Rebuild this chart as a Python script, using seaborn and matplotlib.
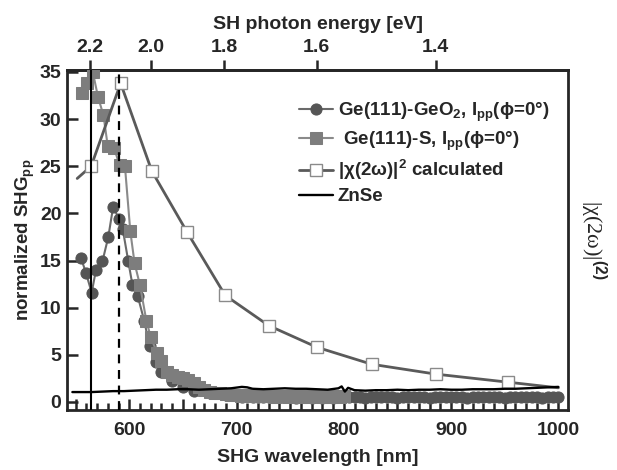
import numpy as np
import pandas as pd
import matplotlib
matplotlib.use("Agg")
import matplotlib.pyplot as plt
from matplotlib.ticker import MultipleLocator, FuncFormatter
import seaborn as sns

# ---------------- data ----------------
geo2_wl = [555, 559.6, 565, 569, 575, 580.5, 585, 590.5, 594, 599, 603, 608, 614, 619,
           625, 630, 640, 650, 660, 675, 690,
           700, 705, 710, 715, 720, 725, 730, 735, 740, 745, 750, 755, 760, 765, 770,
           775, 780, 785, 790, 795, 800, 805, 810, 815, 820, 825, 830, 835, 840, 845,
           850, 855, 860, 865, 870, 875, 880, 885, 890, 895, 900, 905, 910, 915, 920,
           925, 930, 935, 940, 945, 950, 955, 960, 965, 970, 975, 980, 985, 990, 995, 1000]
geo2_val = [15.3, 13.7, 11.6, 14.0, 14.9, 17.5, 20.7, 19.4, 18.3, 15.0, 12.4, 11.2, 8.6, 5.9,
            4.2, 3.2, 2.2, 1.6, 1.2, 0.9, 0.7,
            0.6, 0.55, 0.6, 0.5, 0.55, 0.5, 0.55, 0.5, 0.5, 0.55, 0.5, 0.45, 0.5, 0.5, 0.45,
            0.5, 0.45, 0.5, 0.45, 0.5, 0.5, 0.55, 0.5, 0.5, 0.45, 0.5, 0.5, 0.55, 0.5, 0.5,
            0.45, 0.5, 0.5, 0.55, 0.5, 0.5, 0.45, 0.5, 0.5, 0.5, 0.55, 0.5, 0.5, 0.45, 0.5,
            0.5, 0.55, 0.5, 0.5, 0.5, 0.45, 0.5, 0.5, 0.55, 0.5, 0.5, 0.5, 0.45, 0.5, 0.5, 0.5]

s_wl = [556, 560.5, 566, 571, 576, 580, 586, 591, 596, 601, 605, 610, 616, 620, 626, 630,
        635, 640, 645, 650, 655, 660, 665, 670, 675, 680, 685, 690, 695,
        700, 704, 708, 712, 716, 720, 724, 728, 732, 736, 740, 744, 748, 752, 756, 760,
        764, 768, 772, 776, 780, 784, 788, 792, 796, 800]
s_val = [32.8, 33.8, 35.0, 32.3, 30.4, 27.1, 26.9, 25.1, 25.0, 18.1, 14.7, 12.4, 8.6, 6.9, 5.2, 4.3,
         3.2, 2.9, 2.6, 2.5, 2.3, 2.0, 1.6, 1.3, 1.1, 1.0, 0.9, 0.8, 0.75,
         0.7, 0.65, 0.7, 0.6, 0.65, 0.6, 0.6, 0.65, 0.6, 0.55, 0.6, 0.6, 0.55, 0.6, 0.6, 0.55,
         0.6, 0.55, 0.6, 0.6, 0.55, 0.6, 0.55, 0.6, 0.55, 0.6]

chi_wl = [551.5, 564.5, 592, 621, 654, 689.5, 730, 775, 826, 886, 953, 1000]
chi_val = [23.7, 25.0, 33.8, 24.5, 18.0, 11.3, 8.1, 5.8, 4.0, 2.95, 2.1, 1.5]

znse_wl = [547, 555, 565, 575, 585, 595, 605, 615, 625, 635, 645, 655, 665, 675, 685, 695,
           705, 710, 715, 725, 735, 745, 755, 765, 775, 785, 795, 798, 801, 804, 810, 820,
           830, 840, 850, 860, 870, 880, 890, 900, 910, 920, 930, 940, 950, 960, 970, 980,
           990, 1000]
znse_val = [1.05, 1.05, 1.05, 1.1, 1.15, 1.15, 1.2, 1.25, 1.3, 1.3, 1.35, 1.35, 1.3, 1.35, 1.4, 1.45,
            1.6, 1.55, 1.4, 1.35, 1.4, 1.45, 1.4, 1.4, 1.35, 1.3, 1.45, 1.65, 1.1, 1.5, 1.25, 1.2,
            1.25, 1.25, 1.3, 1.25, 1.3, 1.3, 1.35, 1.3, 1.3, 1.35, 1.35, 1.35, 1.4, 1.4, 1.45, 1.5,
            1.55, 1.6]

energy_ticks = [2.2, 2.0, 1.8, 1.6, 1.4]
y_ticks = [0, 5, 10, 15, 20, 25, 30, 35]
x_labels = [600, 700, 800, 900, 1000]
solid_line_wl = 564
dashed_line_wl = 590

# ---------------- style ----------------
sns.set_style("ticks")
plt.rcParams['font.family'] = ['Liberation Sans', 'DejaVu Sans']
plt.rcParams['font.weight'] = 'bold'
plt.rcParams['mathtext.fontset'] = 'custom'
plt.rcParams['mathtext.rm'] = 'Liberation Sans:bold'
plt.rcParams['mathtext.it'] = 'Liberation Sans:bold'
plt.rcParams['mathtext.bf'] = 'Liberation Sans:bold'

fig = plt.figure(figsize=(6.17, 4.70), dpi=100)
ax = fig.add_axes([0.1086, 0.1277, 0.812, 0.7233])

df_geo2 = pd.DataFrame({"wl": geo2_wl, "val": geo2_val})
df_s = pd.DataFrame({"wl": s_wl, "val": s_val})
df_chi = pd.DataFrame({"wl": chi_wl, "val": chi_val})
df_znse = pd.DataFrame({"wl": znse_wl, "val": znse_val})

sns.lineplot(data=df_geo2, x="wl", y="val", ax=ax, sort=False, color="#6a6a6a", lw=1.5,
             marker="o", ms=8, mfc="#555555", mec="#555555",
             label=r"Ge(111)-GeO$_2$, I$_{pp}$(ϕ=0°)", zorder=3)
sns.lineplot(data=df_s, x="wl", y="val", ax=ax, sort=False, color="#8a8a8a", lw=1.5,
             marker="s", ms=8, mfc="#7d7d7d", mec="#7d7d7d",
             label=r" Ge(111)-S, I$_{pp}$(ϕ=0°)", zorder=4)
sns.lineplot(data=df_chi, x="wl", y="val", ax=ax, sort=False, color="#5a5a5a", lw=2,
             marker="s", ms=8, mfc="white", mec="#8a8a8a", mew=1,
             markevery=list(range(1, len(chi_wl) - 1)),
             label=r"|χ(2ω)|$^2$ calculated", zorder=5)
sns.lineplot(data=df_znse, x="wl", y="val", ax=ax, sort=False, color="black", lw=1.7,
             label="ZnSe", zorder=6)

ax.axvline(solid_line_wl, color="black", lw=1.5, zorder=7)
ax.axvline(dashed_line_wl, color="black", lw=1.6, ls=(0, (4, 3)), zorder=7)

ax.set_xlim(542, 1009)
ax.set_ylim(-0.85, 35.2)
ax.set_yticks(y_ticks)
ax.xaxis.set_major_locator(MultipleLocator(50))
ax.xaxis.set_minor_locator(MultipleLocator(10))
ax.xaxis.set_major_formatter(FuncFormatter(lambda v, p: f"{int(v)}" if int(round(v)) in x_labels else ""))

for s in ax.spines.values():
    s.set_linewidth(2)
ax.tick_params(axis="both", which="major", direction="in", length=8, width=1.8,
               labelsize=14, pad=4)
ax.tick_params(axis="x", which="major", pad=9)
ax.tick_params(axis="x", which="minor", direction="in", length=5, width=1.8)
ax.tick_params(axis="y", which="both", left=True, right=False)
ax.tick_params(axis="x", which="both", top=False)
for lab in ax.get_xticklabels() + ax.get_yticklabels():
    lab.set_fontweight("bold")

ax.set_xlabel("SHG wavelength [nm]", fontsize=14, fontweight="bold", labelpad=7)
ax.set_ylabel(r"normalized SHG$_{pp}$", fontsize=13.5, fontweight="bold", labelpad=2)

top = ax.secondary_xaxis("top", functions=(lambda l: 1239.84 / np.asarray(l, dtype=float),
                                            lambda e: 1239.84 / np.asarray(e, dtype=float)))
top.set_xticks(energy_ticks)
top.set_xticklabels([f"{e:.1f}" for e in energy_ticks], fontweight="bold")
top.tick_params(axis="x", direction="out", length=7, width=1.8, labelsize=14, pad=3)
top.set_xlabel("SH photon energy [eV]", fontsize=14, fontweight="bold", labelpad=7)
top.spines["top"].set_linewidth(2)

ax.text(1.05, 0.5, r"|χ(2ω)|$^{(2)}$", transform=ax.transAxes, rotation=270,
        ha="center", va="center", fontsize=16, fontweight="normal",
        family=["Liberation Serif", "DejaVu Serif"])

leg = ax.legend(loc="upper right", bbox_to_anchor=(0.962, 0.91), frameon=False,
                fontsize=13.5, handlelength=1.8, handletextpad=0.25, labelspacing=0.3,
                borderaxespad=0.0, borderpad=0.0)
for t in leg.get_texts():
    t.set_fontweight("bold")

fig.savefig("out.png", dpi=100)
